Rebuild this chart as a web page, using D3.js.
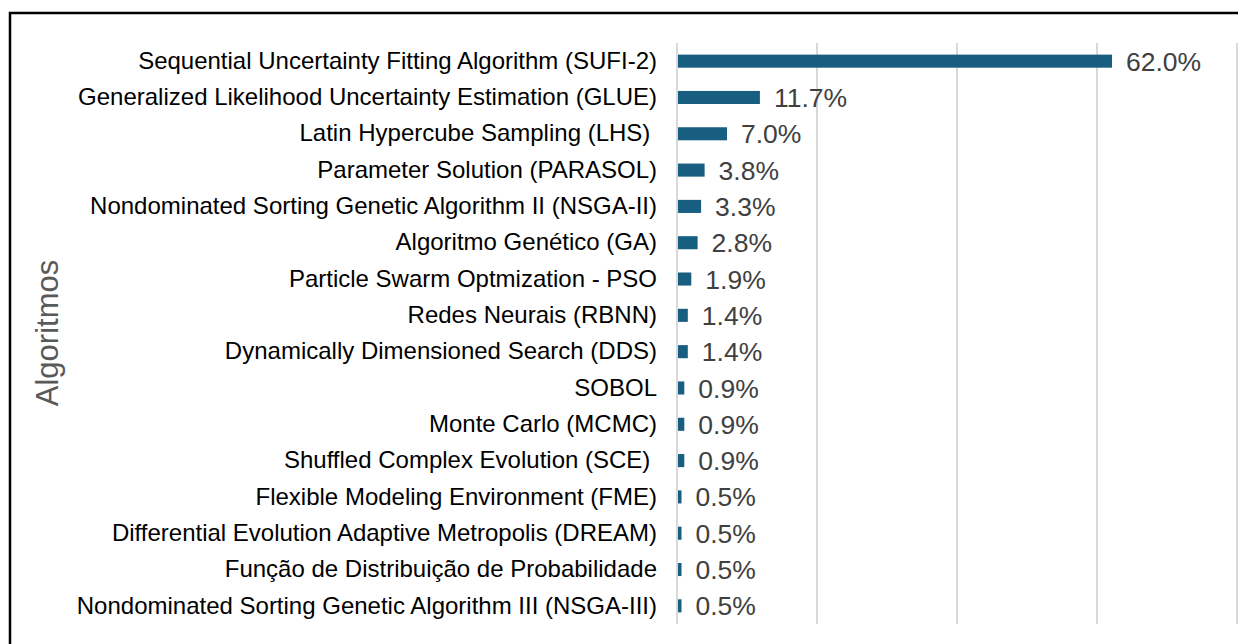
<!DOCTYPE html>
<html>
<head>
<meta charset="utf-8">
<script src="https://cdn.jsdelivr.net/npm/d3@7"></script>
<style>
  body { margin: 0; background: #fff; }
  text { font-family: "Liberation Sans", Arial, sans-serif; }
</style>
</head>
<body>
<script>
// Algorithms and their share of studies (%)
const algorithms = [
    "Sequential Uncertainty Fitting Algorithm (SUFI-2)",
    "Generalized Likelihood Uncertainty Estimation (GLUE)",
    "Latin Hypercube Sampling (LHS) ",
    "Parameter Solution (PARASOL)",
    "Nondominated Sorting Genetic Algorithm II (NSGA-II)",
    "Algoritmo Genético (GA)",
    "Particle Swarm Optmization - PSO",
    "Redes Neurais (RBNN)",
    "Dynamically Dimensioned Search (DDS)",
    "SOBOL",
    "Monte Carlo (MCMC)",
    "Shuffled Complex Evolution (SCE) ",
    "Flexible Modeling Environment (FME)",
    "Differential Evolution Adaptive Metropolis (DREAM)",
    "Função de Distribuição de Probabilidade",
    "Nondominated Sorting Genetic Algorithm III (NSGA-III)"
];
const shares = [62.0, 11.7, 7.0, 3.8, 3.3, 2.8, 1.9, 1.4, 1.4, 0.9, 0.9, 0.9, 0.5, 0.5, 0.5, 0.5];
const xTicks = [0, 20, 40, 60, 80];

const data = algorithms.map((name, i) => ({ name: name, value: shares[i] }));

const width = 1238, height = 644;
const margin = { top: 43, right: 1, bottom: 20, left: 677 };

const svg = d3.select("body").append("svg")
    .attr("width", width)
    .attr("height", height);

// frame
svg.append("path")
    .attr("d", `M10,${height + 5}V13H${width + 5}`)
    .attr("fill", "none")
    .attr("stroke", "#000")
    .attr("stroke-width", 2.5);

const xScale = d3.scaleLinear()
    .domain([0, 80])
    .range([margin.left, width - margin.right]);

const yScale = d3.scaleBand()
    .domain(algorithms)
    .range([margin.top, 624])
    .paddingInner(0.64)
    .paddingOuter(0.32);

// gridlines
svg.append("g")
    .selectAll("line")
    .data(xTicks)
    .enter().append("line")
    .attr("x1", d => xScale(d))
    .attr("x2", d => xScale(d))
    .attr("y1", margin.top)
    .attr("y2", 624)
    .attr("stroke", "#d9d9d9")
    .attr("stroke-width", 2);

// bars
svg.append("g")
    .selectAll("rect")
    .data(data)
    .enter().append("rect")
    .attr("x", xScale(0) + 1)
    .attr("y", d => yScale(d.name))
    .attr("width", d => xScale(d.value) - xScale(0))
    .attr("height", yScale.bandwidth())
    .attr("fill", "#175e80");

// value labels
svg.append("g")
    .selectAll("text")
    .data(data)
    .enter().append("text")
    .attr("x", d => xScale(d.value) + 15)
    .attr("y", d => yScale(d.name) + yScale.bandwidth() / 2)
    .attr("dy", "0.36em")
    .style("font-size", "26.5px")
    .attr("fill", "#404040")
    .text(d => d.value.toFixed(1) + "%");

// category axis
const yAxis = d3.axisLeft(yScale).tickSize(0).tickPadding(20);
const gy = svg.append("g")
    .attr("transform", `translate(${margin.left},0)`)
    .call(yAxis);
gy.select(".domain").remove();
gy.selectAll("text")
    .style("font-size", "24px")
    .style("white-space", "pre")
    .attr("fill", "#000");

// axis title
svg.append("text")
    .attr("transform", "translate(58,333) rotate(-90)")
    .attr("text-anchor", "middle")
    .style("font-size", "31px")
    .attr("fill", "#595959")
    .text("Algoritmos");
</script>
</body>
</html>
